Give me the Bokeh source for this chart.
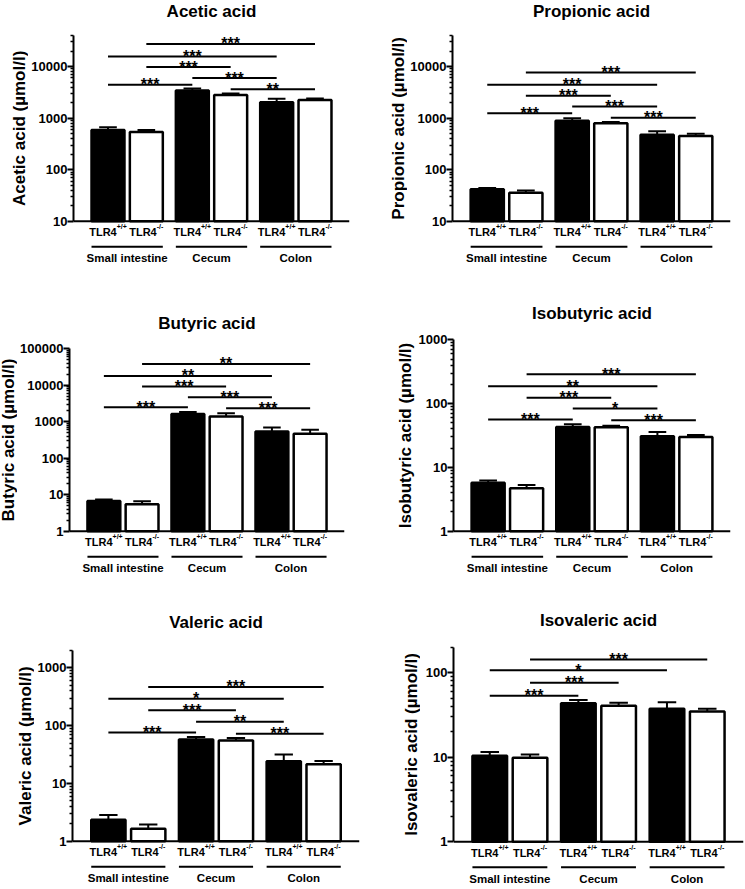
import math
from bokeh.plotting import figure
from bokeh.layouts import column, row
from bokeh.models import Range1d, FixedTicker, NumeralTickFormatter, ColumnDataSource
from bokeh.core.properties import value
from bokeh.embed import file_html
from bokeh.resources import INLINE

FONT = "Liberation Sans"

# ---------------- data ----------------
groups = ["Small intestine", "Cecum", "Colon"]
genotype_base = ["TLR4", "TLR4"]
genotype_sup = ["+/+", "-/-"]

acetic_mean = [586, 536, 3420, 2820, 2030, 2250]
acetic_sem = [75, 50, 320, 170, 330, 140]
acetic_comps = [(0, 2, 4420, "***"), (2, 4, 5970, "***"), (3, 5, 3640, "**"),
                (1, 3, 9770, "***"), (0, 4, 15700, "***"), (1, 5, 27400, "***")]

propionic_mean = [41.5, 35.7, 889, 792, 474, 448]
propionic_sem = [2.5, 3.9, 101, 48, 79, 49]
propionic_comps = [(0, 2, 1240, "***"), (2, 4, 1670, "***"), (3, 5, 1020, "***"),
                   (1, 3, 2700, "***"), (0, 4, 4420, "***"), (1, 5, 7670, "***")]

butyric_mean = [6.7, 5.5, 1625, 1400, 542, 468]
butyric_sem = [0.7, 1.1, 220, 300, 156, 135]
butyric_comps = [(0, 2, 2480, "***"), (2, 4, 4680, "***"), (3, 5, 2330, "***"),
                 (1, 3, 9190, "***"), (0, 4, 18000, "**"), (1, 5, 38600, "**")]

isobutyric_mean = [5.74, 4.73, 43.0, 42.5, 30.7, 29.9]
isobutyric_sem = [0.51, 0.55, 4.4, 2.6, 5.2, 2.3]
isobutyric_comps = [(0, 2, 56.1, "***"), (2, 4, 83.5, "*"), (3, 5, 54.8, "***"),
                    (1, 3, 123, "***"), (0, 4, 187, "**"), (1, 5, 289, "***")]

valeric_mean = [2.36, 1.64, 57.8, 55.5, 24.2, 21.4]
valeric_sem = [0.48, 0.31, 5.7, 5.4, 7.4, 3.1]
valeric_comps = [(0, 2, 76.5, "***"), (2, 4, 117, "**"), (3, 5, 72.5, "***"),
                 (1, 3, 185, "***"), (0, 4, 292, "*"), (1, 5, 467, "***")]

isovaleric_mean = [10.4, 9.86, 43.6, 40.5, 37.4, 34.7]
isovaleric_sem = [1.1, 0.94, 3.8, 3.5, 7.4, 2.7]
isovaleric_comps = [(0, 2, 53.3, "***"), (1, 3, 76, "***"), (0, 4, 107, "*"), (1, 5, 143, "***")]

panels = [
    dict(title="Acetic acid", ylabel="Acetic acid (\u00b5mol/l)", mean=acetic_mean, sem=acetic_sem,
         comps=acetic_comps, ylim=(10, 40000)),
    dict(title="Propionic acid", ylabel="Propionic acid (\u00b5mol/l)", mean=propionic_mean, sem=propionic_sem,
         comps=propionic_comps, ylim=(10, 40000)),
    dict(title="Butyric acid", ylabel="Butyric acid (\u00b5mol/l)", mean=butyric_mean, sem=butyric_sem,
         comps=butyric_comps, ylim=(1, 100000)),
    dict(title="Isobutyric acid", ylabel="Isobutyric acid (\u00b5mol/l)", mean=isobutyric_mean, sem=isobutyric_sem,
         comps=isobutyric_comps, ylim=(1, 1000)),
    dict(title="Valeric acid", ylabel="Valeric acid (\u00b5mol/l)", mean=valeric_mean, sem=valeric_sem,
         comps=valeric_comps, ylim=(1, 2000)),
    dict(title="Isovaleric acid", ylabel="Isovaleric acid (\u00b5mol/l)", mean=isovaleric_mean, sem=isovaleric_sem,
         comps=isovaleric_comps, ylim=(1, 200)),
]

# ---------------- layout / style ----------------
# (width, height, frame left, right border, axis top px, axis px, title baseline px,
#  y-title distance from axis px, y-title strip width)
geometry = [
    (365, 295, 71, 16, 35.0, 220.7, 15.0, 52.4, 28),
    (379, 295, 86, 14, 35.0, 220.7, 15.0, 53.2, 42),
    (365, 296, 69, 21, 53.3, 235.7, 32.0, 61.5, 17),
    (379, 296, 87, 14, 44.3, 235.7, 22.0, 46.7, 50),
    (365, 297, 71, 6, 59.0, 249.7, 35.0, 46.0, 34),
    (379, 297, 88, 1, 55.7, 250.3, 33.3, 42.4, 55),
]

TXT_SHIFT = -4          # compensation for text baseline placement
GROUP_STEP = 2.2
BAR_W = 0.86
CAP_HALF = 0.23
X0, X1 = -0.9, 2 * GROUP_STEP + 1 + 0.9


def bar_x():
    return [g * GROUP_STEP + b for g in range(len(groups)) for b in range(2)]


def txt(p, **kw):
    base = dict(text_font=value(FONT), text_font_style="bold", text_color="black",
                text_baseline="alphabetic")
    base.update(kw)
    return p.text(**base)


def make_panel(spec, geo):
    W, H, L, R, top, axis, tb, yt, A = geo
    ymin, ymax = spec["ylim"]
    ndec = math.log10(ymax) - math.log10(ymin)
    dpx = (axis - top) / ndec
    lo = 10 ** (math.log10(ymin) - (H - axis) / dpx)
    hi = 10 ** (math.log10(ymax) + top / dpx)

    # strip holding the rotated y-axis title
    s = figure(width=A, height=H, x_range=Range1d(0, A), y_range=Range1d(H, 0),
               x_axis_location=None, y_axis_location=None, output_backend="svg",
               toolbar_location=None, min_border=0)
    s.outline_line_color = None
    s.xgrid.visible = False
    s.ygrid.visible = False
    txt(s, x=[L - yt], y=[(top + axis) / 2], text=[spec["ylabel"]], angle=math.pi / 2,
        text_align="center", text_baseline="middle", text_font_size=value("17px"))

    p = figure(width=W - A, height=H, x_range=Range1d(X0, X1), y_range=Range1d(lo, hi),
               y_axis_type="log", x_axis_location=None, output_backend="svg",
               toolbar_location=None, min_border_left=L - A, min_border_right=R,
               min_border_top=0, min_border_bottom=0)
    p.outline_line_color = None
    p.xgrid.visible = False
    p.ygrid.visible = False

    # y axis
    ax = p.yaxis[0]
    ax.bounds = (ymin, ymax)
    kmin = int(round(math.log10(ymin)))
    kmax = int(math.floor(math.log10(ymax) + 1e-9))
    majors = [10 ** k for k in range(kmin, kmax + 1)]
    minors = []
    for k in range(kmin, kmax + 1):
        for m in range(2, 10):
            v = m * 10 ** k
            if ymin < v <= ymax * 1.0001:
                minors.append(v)
    ax.ticker = FixedTicker(ticks=majors, minor_ticks=minors)
    ax.formatter = NumeralTickFormatter(format="0")
    ax.axis_line_width = 2
    ax.axis_line_color = "black"
    ax.major_tick_line_width = 2
    ax.major_tick_line_color = "black"
    ax.major_tick_out = 6
    ax.major_tick_in = 0
    ax.minor_tick_line_width = 1.5
    ax.minor_tick_line_color = "black"
    ax.minor_tick_out = 3
    ax.minor_tick_in = 0
    ax.major_label_standoff = 0
    ax.major_label_text_font = FONT
    ax.major_label_text_font_style = "bold"
    ax.major_label_text_font_size = "13px"
    ax.major_label_text_color = "black"

    xs = bar_x()
    mean = spec["mean"]
    sem = spec["sem"]
    fills = ["black", "white"] * len(groups)
    up = [m + e for m, e in zip(mean, sem)]
    src = ColumnDataSource(dict(x=xs, top=mean, fill=fills, up=up,
                                c0=[x - CAP_HALF for x in xs], c1=[x + CAP_HALF for x in xs]))

    # x baseline
    p.segment(x0=[X0], y0=[ymin], x1=[X1], y1=[ymin], line_color="black", line_width=2)

    # bars and upper error bars
    p.vbar(x="x", top="top", bottom=ymin, width=BAR_W, fill_color="fill",
           line_color="black", line_width=2.5, source=src)
    p.segment(x0="x", y0="top", x1="x", y1="up", line_color="black", line_width=2, source=src)
    p.segment(x0="c0", y0="up", x1="c1", y1="up", line_color="black", line_width=2, source=src)

    # significance lines
    comps = spec["comps"]
    cs = ColumnDataSource(dict(
        x0=[xs[i] for i, j, lv, t in comps], x1=[xs[j] for i, j, lv, t in comps],
        y=[lv for i, j, lv, t in comps], xm=[(xs[i] + xs[j]) / 2 for i, j, lv, t in comps],
        t=[t for i, j, lv, t in comps]))
    p.segment(x0="x0", y0="y", x1="x1", y1="y", line_color="black", line_width=2, source=cs)
    txt(p, x="xm", y="y", text="t", source=cs, text_align="center",
        y_offset=4 + TXT_SHIFT, text_font_size=value("16px"))

    # category labels under axis
    n = len(xs)
    ls = ColumnDataSource(dict(x=xs, y=[ymin] * n,
                               base=[genotype_base[k % 2] for k in range(n)],
                               sup=[genotype_sup[k % 2] for k in range(n)],
                               off=[8.7 if k % 2 == 0 else 10.4 for k in range(n)]))
    txt(p, x="x", y="y", text="base", source=ls, x_offset="off", y_offset=15 + TXT_SHIFT,
        text_align="right", text_font_size=value("11px"))
    txt(p, x="x", y="y", text="sup", source=ls, x_offset="off", y_offset=9.5 + TXT_SHIFT,
        text_align="left", text_font_size=value("7px"))

    # group brackets and names
    yb = 10 ** (math.log10(ymin) - 25.5 / dpx)
    ng = len(groups)
    gs = ColumnDataSource(dict(x0=[g * GROUP_STEP - BAR_W / 2 for g in range(ng)],
                               x1=[g * GROUP_STEP + 1 + BAR_W / 2 for g in range(ng)],
                               yb=[yb] * ng, xc=[g * GROUP_STEP + 0.5 for g in range(ng)],
                               y=[ymin] * ng, name=groups))
    p.segment(x0="x0", y0="yb", x1="x1", y1="yb", line_color="black", line_width=2, source=gs)
    txt(p, x="xc", y="y", text="name", source=gs, y_offset=41 + TXT_SHIFT, text_align="center",
        text_font_size=value("11.5px"))

    # title
    txt(p, x=[(X0 + X1) / 2], y=[ymax], text=[spec["title"]], y_offset=-(top - tb) + TXT_SHIFT,
        text_align="center", text_font_size=value("17px"))
    return row(s, p)


cells = [make_panel(s, g) for s, g in zip(panels, geometry)]
layout = column(row(cells[0], cells[1]), row(cells[2], cells[3]), row(cells[4], cells[5]))

open("out.html", "w").write(file_html(layout, INLINE))
